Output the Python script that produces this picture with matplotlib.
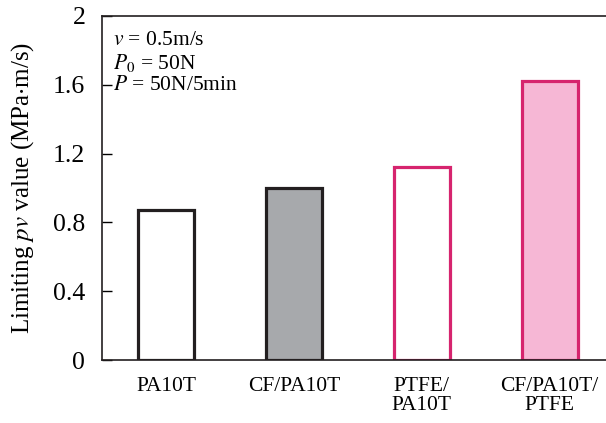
import numpy as np
import matplotlib
matplotlib.use('Agg')
import matplotlib.pyplot as plt

plt.rcParams['font.family'] = 'Liberation Serif'
plt.rcParams['mathtext.fontset'] = 'stix'

# data
labels = ['PA10T', 'CF/PA10T', 'PTFE/\nPA10T', 'CF/PA10T/\nPTFE']
pv_values = [0.87, 1.0, 1.12, 1.62]
face_colors = ['white', '#a7a9ac', 'white', '#f6b7d5']
edge_colors = ['#231f20', '#231f20', '#d6246e', '#d6246e']
yticks = [0, 0.4, 0.8, 1.2, 1.6, 2]

fig = plt.figure(figsize=(6.06, 4.23), dpi=100)
ax = fig.add_axes([102/606, 63/423, 504/606, 344/423])

x = np.arange(len(labels))
ax.bar(x, pv_values, width=0.44, color=face_colors, edgecolor=edge_colors,
       linewidth=2.3, zorder=2)

ax.set_xlim(-0.5, 3.44)
ax.set_ylim(0, 2)
ax.set_yticks(yticks)
ax.set_yticklabels(['0', '0.4', '0.8', '1.2', '1.6', '2'])
ax.set_xticks(x)
ax.set_xticklabels(labels, linespacing=1.05)
ax.tick_params(axis='y', direction='in', length=7, width=1, labelsize=18.5, pad=12)
ax.tick_params(axis='x', length=0, labelsize=15.5, pad=12)
ax.spines['right'].set_visible(False)
for s in ['left', 'top', 'bottom']:
    ax.spines[s].set_linewidth(1.2)
    ax.spines[s].set_color('#231f20')

ax.set_ylabel(r'Limiting $\mathit{pv}$ value (MPa$\cdot$m/s)', fontsize=18, labelpad=12)

ax.text(0.022, 0.955,
        '$v$ = 0.5m/s\n$P_{\\mathit{0}}$ = 50N\n$P$ = 50N/5min',
        transform=ax.transAxes, ha='left', va='top', fontsize=15.5, linespacing=1.1)

fig.savefig('out.png', dpi=100)
